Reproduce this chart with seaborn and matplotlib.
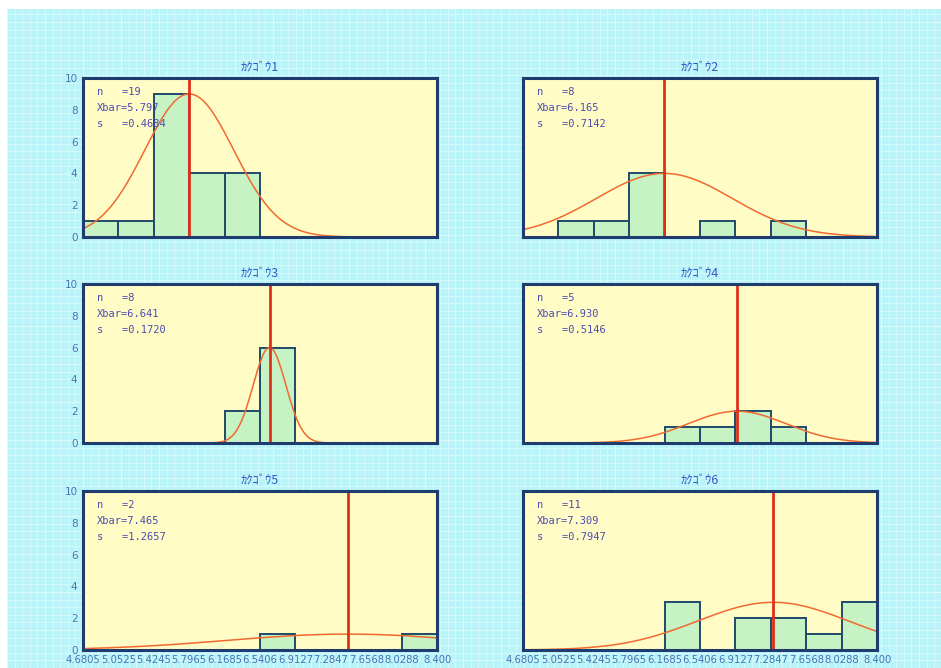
import numpy as np
import pandas as pd
import matplotlib
matplotlib.use("Agg")
import matplotlib.pyplot as plt
import seaborn as sns

sns.set_theme(style="white")
plt.rcParams["font.family"] = ["DejaVu Sans", "Noto Sans CJK JP"]

# Class boundaries shared by every panel
bin_edges = [4.6805, 5.0525, 5.4245, 5.7965, 6.1685, 6.5406,
             6.9127, 7.2847, 7.6568, 8.0288, 8.4009]
edge_labels = ["4.6805", "5.0525", "5.4245", "5.7965", "6.1685", "6.5406",
               "6.9127", "7.2847", "7.6568", "8.0288", "8.400"]

titles = ["ｶｸｺﾞｳ1", "ｶｸｺﾞｳ2", "ｶｸｺﾞｳ3", "ｶｸｺﾞｳ4", "ｶｸｺﾞｳ5", "ｶｸｺﾞｳ6"]

# Frequency per class for each group
counts_1 = [1, 1, 9, 4, 4, 0, 0, 0, 0, 0]
counts_2 = [0, 1, 1, 4, 0, 1, 0, 1, 0, 0]
counts_3 = [0, 0, 0, 0, 2, 6, 0, 0, 0, 0]
counts_4 = [0, 0, 0, 0, 1, 1, 2, 1, 0, 0]
counts_5 = [0, 0, 0, 0, 0, 1, 0, 0, 0, 1]
counts_6 = [0, 0, 0, 0, 3, 0, 2, 2, 1, 3]
all_counts = [counts_1, counts_2, counts_3, counts_4, counts_5, counts_6]

# Summary statistics printed in each panel
n_values = [19, 8, 8, 5, 2, 11]
xbar_values = [5.797, 6.165, 6.641, 6.930, 7.465, 7.309]
s_values = [0.4684, 0.7142, 0.1720, 0.5146, 1.2657, 0.7947]

W, H = 941, 668
fig = plt.figure(figsize=(W / 100, H / 100), dpi=100)
fig.patch.set_facecolor("white")

# Graph-paper backdrop
bg = fig.add_axes([7 / W, 0, 1 - 7 / W, 1 - 9 / H], zorder=-5)
bg.set_xlim(7, W)
bg.set_ylim(0, H - 9)
bg.set_facecolor("#b8f4f9")
for k, gx in enumerate(np.arange(7, W, 7.6)):
    bg.axvline(gx, color="#d2f9fc" if k % 5 else "#dcfbfd", lw=0.8)
for k, gy in enumerate(np.arange(0, H - 9, 7.6)):
    bg.axhline(gy, color="#d2f9fc" if k % 5 else "#dcfbfd", lw=0.8)
bg.set_xticks([])
bg.set_yticks([])
for sp in bg.spines.values():
    sp.set_visible(False)

col_left = [83, 523]
ax_w = 354
row_top = [78, 284, 491]
ax_h = 159

navy = "#1e3c6e"
label_blue = "#4a72b4"
text_blue = "#4c4cb0"

centers = [(a + b) / 2 for a, b in zip(bin_edges[:-1], bin_edges[1:])]

for i in range(6):
    r, c = divmod(i, 2)
    left = col_left[c] / W
    bottom = 1 - (row_top[r] + ax_h) / H
    ax = fig.add_axes([left, bottom, ax_w / W, ax_h / H])
    ax.set_facecolor("#fffcc6")

    df = pd.DataFrame({"x": centers, "w": all_counts[i]})
    sns.histplot(data=df, x="x", weights="w", bins=bin_edges, ax=ax,
                 color="#c6f2c4", edgecolor="#1f4a6a", linewidth=1.4,
                 alpha=1.0, zorder=2)

    # Normal curve with its peak at the tallest class
    peak = max(all_counts[i])
    xs = np.linspace(bin_edges[0], bin_edges[-1], 300)
    ys = peak * np.exp(-(xs - xbar_values[i]) ** 2 / (2 * s_values[i] ** 2))
    sns.lineplot(x=xs, y=ys, ax=ax, color="#f06a30", lw=1.1, zorder=3)

    ax.axvline(xbar_values[i], color="#e0301a", lw=2.0, zorder=4)

    ax.set_xlim(bin_edges[0], bin_edges[-1])
    ax.set_ylim(0, 10)
    ax.set_xlabel("")
    ax.set_ylabel("")
    ax.set_xticks(bin_edges)
    ax.set_yticks([0, 2, 4, 6, 8, 10])
    ax.tick_params(axis="x", direction="in", length=4, color=navy, width=1)
    ax.tick_params(axis="y", direction="out", length=3, color=label_blue,
                   width=1, labelsize=7.5, labelcolor=label_blue, pad=1)
    if r == 2:
        ax.set_xticklabels(edge_labels, fontsize=7.2, color=label_blue)
        ax.tick_params(axis="x", pad=3.5)
    else:
        ax.set_xticklabels([])
    if c == 1:
        ax.set_yticklabels([])

    for sp in ax.spines.values():
        sp.set_visible(True)
        sp.set_color(navy)
        sp.set_linewidth(2.2)
        sp.set_zorder(6)

    ax.set_title(titles[i], fontsize=9, color="#3456c8", pad=5,
                 family=["Noto Sans CJK JP", "DejaVu Sans"])

    stats = [f"n   ={n_values[i]}",
             f"Xbar={xbar_values[i]:.3f}",
             f"s   ={s_values[i]:.4f}"]
    for k, line in enumerate(stats):
        ax.text(14 / ax_w, 1 - (14 + 16 * k) / ax_h, line,
                transform=ax.transAxes, fontsize=7.5, color=text_blue,
                family="DejaVu Sans Mono", va="center", ha="left", zorder=7)

fig.savefig("out.png", dpi=100)
